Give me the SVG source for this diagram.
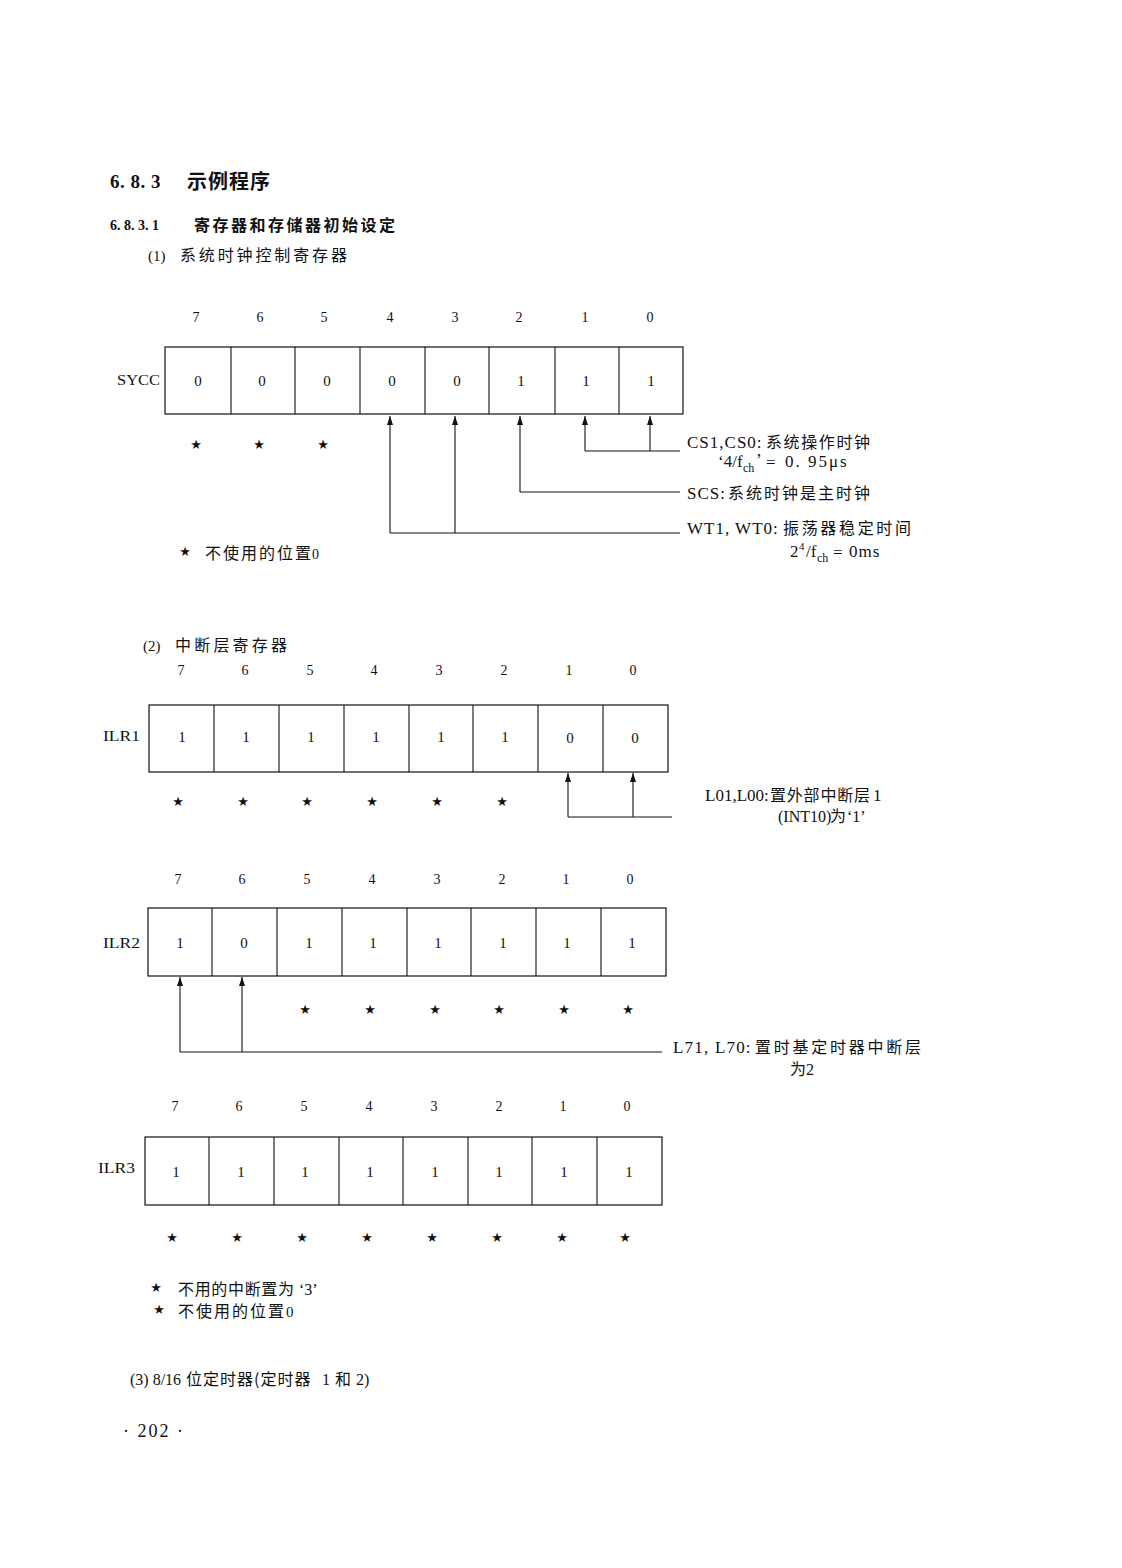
<svg xmlns="http://www.w3.org/2000/svg" width="1122" height="1568" viewBox="0 0 1122 1568">
<style>
text{font-family:"Liberation Serif","Noto Sans CJK SC",serif;fill:#111}
.h{font-weight:bold}
.bit{font-size:14px;text-anchor:middle}
.val{font-size:15px;text-anchor:middle}
.star{font-family:"DejaVu Sans",sans-serif;font-size:13px;text-anchor:middle}
.lbl{font-size:14px;text-anchor:end}
.t{font-size:15px}
.n{font-size:17px;letter-spacing:1px}
.zh{font-family:"Noto Sans CJK SC",sans-serif;font-size:16px;letter-spacing:2px}
.cell{fill:none;stroke:#111;stroke-width:1.2}
.ln{fill:none;stroke:#111;stroke-width:1.1}
.arr{marker-end:url(#ah)}
</style>
<defs>
<marker id="ah" viewBox="0 0 9 6" refX="9" refY="3" markerWidth="9" markerHeight="6" markerUnits="userSpaceOnUse" orient="auto">
<path d="M0,0 L9,3 L0,6 Z" fill="#111"/>
</marker>
</defs>
<rect width="1122" height="1568" fill="#fff"/>

<g id="headings">
<text x="110" y="188" class="h" style="font-size:19px;letter-spacing:0.5px">6. 8. 3</text>
<text x="187" y="189" class="h" style="font-size:20px" textLength="83" lengthAdjust="spacing">示例程序</text>
<text x="110" y="230" class="h" style="font-size:14px">6. 8. 3. 1</text>
<text x="194" y="231" class="h" style="font-size:16px" textLength="201" lengthAdjust="spacing">寄存器和存储器初始设定</text>
<text x="148" y="261" class="t">(1)</text>
<text x="180" y="261" class="t" style="font-size:16px" textLength="167" lengthAdjust="spacing">系统时钟控制寄存器</text>
</g>

<g id="sycc">
<text class="bit" x="196" y="322">7</text><text class="bit" x="260" y="322">6</text><text class="bit" x="324" y="322">5</text><text class="bit" x="390" y="322">4</text><text class="bit" x="455" y="322">3</text><text class="bit" x="519" y="322">2</text><text class="bit" x="585" y="322">1</text><text class="bit" x="650" y="322">0</text>
<text class="lbl" x="160" y="385" textLength="43" lengthAdjust="spacingAndGlyphs">SYCC</text>
<rect class="cell" x="165" y="347" width="518" height="67"/>
<path class="ln" d="M231,347V414M295,347V414M360,347V414M425,347V414M489,347V414M555,347V414M619,347V414"/>
<text class="val" x="198" y="386">0</text><text class="val" x="262" y="386">0</text><text class="val" x="327" y="386">0</text><text class="val" x="392" y="386">0</text><text class="val" x="457" y="386">0</text><text class="val" x="521" y="386">1</text><text class="val" x="586" y="386">1</text><text class="val" x="651" y="386">1</text>
<text class="star" x="196" y="449">★</text><text class="star" x="259" y="449">★</text><text class="star" x="323" y="449">★</text>
</g>

<g id="sycc-notes">
<text class="n" x="687" y="448">CS1,CS0:</text><text class="zh" x="766" y="448" textLength="106" lengthAdjust="spacing">系统操作时钟</text>
<text class="t" x="718" y="467" style="font-size:17px">‘4/f</text><text class="t" x="743" y="472" style="font-size:12px">ch</text><text class="t" x="756" y="465" style="font-size:17px">’</text><text class="t" x="766" y="468" style="font-size:17px">=</text><text class="t" x="785" y="467" style="font-size:17px;letter-spacing:2px">0. 95μs</text>
<text class="n" x="687" y="499">SCS:</text><text class="zh" x="728" y="499" textLength="144" lengthAdjust="spacing">系统时钟是主时钟</text>
<text class="n" x="687" y="534">WT1, WT0:</text><text class="zh" x="783" y="534" textLength="130" lengthAdjust="spacing">振荡器稳定时间</text>
<text class="t" x="790" y="557" style="font-size:17px">2</text><text class="t" x="799" y="550" style="font-size:11px">4</text><text class="t" x="806" y="557" style="font-size:17px">/f</text><text class="t" x="817" y="562" style="font-size:12px">ch</text><text class="t" x="833" y="558" style="font-size:17px">=</text><text class="t" x="849" y="557" style="font-size:17px;letter-spacing:1px">0ms</text>
<text class="star" x="185" y="556">★</text><text class="zh" x="205" y="559">不使用的位置</text><text class="t" x="312" y="559" style="font-size:14px">0</text>
</g>

<g id="heading2">
<text x="143" y="651" class="t">(2)</text>
<text x="175" y="651" class="t" style="font-size:16px" textLength="112" lengthAdjust="spacing">中断层寄存器</text>
</g>

<g id="ilr1">
<text class="bit" x="181" y="675">7</text><text class="bit" x="245" y="675">6</text><text class="bit" x="310" y="675">5</text><text class="bit" x="374" y="675">4</text><text class="bit" x="439" y="675">3</text><text class="bit" x="504" y="675">2</text><text class="bit" x="569" y="675">1</text><text class="bit" x="633" y="675">0</text>
<text class="lbl" x="140" y="741" textLength="37" lengthAdjust="spacingAndGlyphs">ILR1</text>
<rect class="cell" x="149" y="705" width="519" height="67"/>
<path class="ln" d="M214,705V772M279,705V772M344,705V772M409,705V772M473,705V772M538,705V772M603,705V772"/>
<text class="val" x="182" y="742">1</text><text class="val" x="246" y="742">1</text><text class="val" x="311" y="742">1</text><text class="val" x="376" y="742">1</text><text class="val" x="441" y="742">1</text><text class="val" x="505" y="742">1</text><text class="val" x="570" y="743">0</text><text class="val" x="635" y="743">0</text>
<text class="star" x="178" y="806">★</text><text class="star" x="243" y="806">★</text><text class="star" x="307" y="806">★</text><text class="star" x="372" y="806">★</text><text class="star" x="437" y="806">★</text><text class="star" x="502" y="806">★</text>
</g>

<g id="ilr1-notes">
<text class="t" x="705" y="801" style="font-size:17px">L01,L00:</text><text class="zh" x="770" y="801" textLength="102" lengthAdjust="spacing">置外部中断层</text><text class="t" x="873" y="801" style="font-size:17px">1</text>
<text class="t" x="778" y="822" style="font-size:16px">(INT10)</text><text class="zh" x="830" y="822" style="letter-spacing:0">为</text><text class="t" x="847" y="822" style="font-size:16px">‘1’</text>
</g>

<g id="ilr2">
<text class="bit" x="178" y="884">7</text><text class="bit" x="242" y="884">6</text><text class="bit" x="307" y="884">5</text><text class="bit" x="372" y="884">4</text><text class="bit" x="437" y="884">3</text><text class="bit" x="502" y="884">2</text><text class="bit" x="566" y="884">1</text><text class="bit" x="630" y="884">0</text>
<text class="lbl" x="140" y="948" textLength="37" lengthAdjust="spacingAndGlyphs">ILR2</text>
<rect class="cell" x="148" y="908" width="518" height="68"/>
<path class="ln" d="M212,908V976M277,908V976M342,908V976M407,908V976M471,908V976M536,908V976M601,908V976"/>
<text class="val" x="180" y="948">1</text><text class="val" x="244" y="948">0</text><text class="val" x="309" y="948">1</text><text class="val" x="373" y="948">1</text><text class="val" x="438" y="948">1</text><text class="val" x="503" y="948">1</text><text class="val" x="567" y="948">1</text><text class="val" x="632" y="948">1</text>
<text class="star" x="305" y="1014">★</text><text class="star" x="370" y="1014">★</text><text class="star" x="435" y="1014">★</text><text class="star" x="499" y="1014">★</text><text class="star" x="564" y="1014">★</text><text class="star" x="628" y="1014">★</text>
</g>

<g id="ilr2-notes">
<text class="n" x="673" y="1053" style="letter-spacing:1.2px">L71, L70:</text><text class="zh" x="755" y="1053" textLength="168" lengthAdjust="spacing">置时基定时器中断层</text>
<text class="zh" x="790" y="1075" style="letter-spacing:0">为</text><text class="t" x="806" y="1075" style="font-size:16px">2</text>
</g>

<g id="ilr3">
<text class="bit" x="175" y="1111">7</text><text class="bit" x="239" y="1111">6</text><text class="bit" x="304" y="1111">5</text><text class="bit" x="369" y="1111">4</text><text class="bit" x="434" y="1111">3</text><text class="bit" x="499" y="1111">2</text><text class="bit" x="563" y="1111">1</text><text class="bit" x="627" y="1111">0</text>
<text class="lbl" x="135" y="1173" textLength="37" lengthAdjust="spacingAndGlyphs">ILR3</text>
<rect class="cell" x="145" y="1137" width="517" height="68"/>
<path class="ln" d="M209,1137V1205M274,1137V1205M339,1137V1205M403,1137V1205M468,1137V1205M532,1137V1205M597,1137V1205"/>
<text class="val" x="176" y="1177">1</text><text class="val" x="241" y="1177">1</text><text class="val" x="305" y="1177">1</text><text class="val" x="370" y="1177">1</text><text class="val" x="435" y="1177">1</text><text class="val" x="499" y="1177">1</text><text class="val" x="564" y="1177">1</text><text class="val" x="629" y="1177">1</text>
<text class="star" x="172" y="1242">★</text><text class="star" x="237" y="1242">★</text><text class="star" x="302" y="1242">★</text><text class="star" x="367" y="1242">★</text><text class="star" x="432" y="1242">★</text><text class="star" x="497" y="1242">★</text><text class="star" x="562" y="1242">★</text><text class="star" x="625" y="1242">★</text>
</g>

<g id="footer">
<text class="star" x="156" y="1292">★</text><text class="zh" x="178" y="1295" textLength="118" lengthAdjust="spacing">不用的中断置为</text><text class="t" x="299" y="1295" style="font-size:16px">‘3’</text>
<text class="star" x="159" y="1314">★</text><text class="zh" x="178" y="1317">不使用的位置</text><text class="t" x="286" y="1317">0</text>
<text class="t" x="130" y="1385" style="font-size:16px">(3) 8/16</text><text class="zh" x="186" y="1385" style="letter-spacing:1px">位定时器(定时器</text><text class="t" x="322" y="1385" style="font-size:16px">1</text><text class="zh" x="335" y="1385" style="letter-spacing:0">和</text><text class="t" x="356" y="1385" style="font-size:16px">2)</text>
<text class="t" x="123" y="1437" style="font-size:18px;letter-spacing:2px">· 202 ·</text>
</g>

<g id="connectors">
<path class="ln arr" d="M585,451V416"/>
<path class="ln arr" d="M650,451V416"/>
<path class="ln" d="M585,451H680"/>
<path class="ln arr" d="M520,492V416"/>
<path class="ln" d="M520,492H680"/>
<path class="ln arr" d="M390,533V416"/>
<path class="ln arr" d="M455,533V416"/>
<path class="ln" d="M390,533H680"/>
<path class="ln arr" d="M568,817V773"/>
<path class="ln arr" d="M633,817V773"/>
<path class="ln" d="M568,817H672"/>
<path class="ln arr" d="M180,1052V977"/>
<path class="ln arr" d="M242,1052V977"/>
<path class="ln" d="M180,1052H662"/>
</g>
</svg>
